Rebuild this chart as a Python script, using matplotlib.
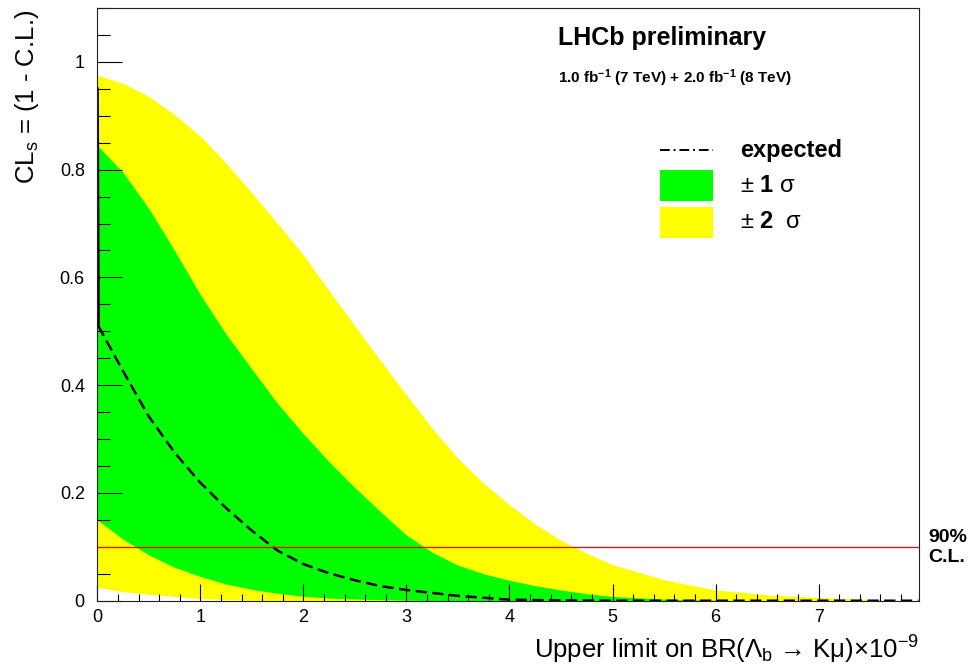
import matplotlib
matplotlib.use("Agg")
import matplotlib.pyplot as plt
from matplotlib.lines import Line2D
from matplotlib.patches import Rectangle
from matplotlib.ticker import MultipleLocator, FuncFormatter

plt.rcParams['font.family'] = ['Liberation Sans', 'DejaVu Sans']
plt.rcParams['mathtext.fontset'] = 'custom'
plt.rcParams['mathtext.rm'] = 'Liberation Sans'
plt.rcParams['mathtext.bf'] = 'Liberation Sans:bold'
plt.rcParams['mathtext.it'] = 'Liberation Sans:italic'

# branching fraction scan points (units of 1e-9)
br = [0.0, 0.25, 0.5, 0.75, 1.0, 1.25, 1.5, 1.75, 2.0, 2.25, 2.5, 2.75,
      3.0, 3.25, 3.5, 3.75, 4.0, 4.25, 4.5, 4.75, 5.0, 5.5, 6.0, 6.5,
      7.0, 7.5, 7.97]

# CLs bands from toys
band_p2 = [0.975, 0.96, 0.936, 0.902, 0.862, 0.812, 0.757, 0.70, 0.642, 0.575,
           0.51, 0.445, 0.382, 0.32, 0.264, 0.218, 0.178, 0.142, 0.112, 0.088,
           0.067, 0.039, 0.02, 0.011, 0.006, 0.002, 0.0]
band_p1 = [0.845, 0.795, 0.728, 0.65, 0.568, 0.495, 0.43, 0.366, 0.31, 0.258,
           0.21, 0.165, 0.122, 0.09, 0.066, 0.05, 0.038, 0.028, 0.02, 0.013,
           0.008, 0.003, 0.001, 0.0, 0.0, 0.0, 0.0]
band_m1 = [0.15, 0.114, 0.085, 0.062, 0.045, 0.031, 0.021, 0.014, 0.008, 0.005,
           0.003, 0.002, 0.001, 0.0, 0.0, 0.0, 0.0, 0.0, 0.0, 0.0,
           0.0, 0.0, 0.0, 0.0, 0.0, 0.0, 0.0]
band_m2 = [0.025, 0.017, 0.012, 0.008, 0.004, 0.002, 0.001, 0.0, 0.0, 0.0,
           0.0, 0.0, 0.0, 0.0, 0.0, 0.0, 0.0, 0.0, 0.0, 0.0,
           0.0, 0.0, 0.0, 0.0, 0.0, 0.0, 0.0]

# median expected CLs
exp_br = [0.0, 0.01, 0.25, 0.5, 0.75, 1.0, 1.25, 1.5, 1.75, 2.0, 2.25, 2.5,
          2.75, 3.0, 3.5, 4.0, 4.5, 5.0, 6.0, 7.0, 7.97]
exp_cls = [0.95, 0.51, 0.426, 0.342, 0.275, 0.219, 0.172, 0.13, 0.093, 0.068,
           0.051, 0.038, 0.027, 0.02, 0.009, 0.002, 0.0005, 0.0, 0.0, 0.0, 0.0]

cl_level = 0.1

fig = plt.figure(figsize=(9.72, 6.68), dpi=100)
ax = fig.add_axes([0.1001, 0.1007, 0.8449, 0.8873])

ax.fill_between(br, band_m2, band_p2, color='#ffff00', lw=0)
ax.fill_between(br, band_m1, band_p1, color='#00ff00', lw=0)
# steep start at zero drawn solid, the rest dashed
ax.plot(exp_br[:2], exp_cls[:2], color='black', lw=2.2)
ax.plot(exp_br[1:], exp_cls[1:], color='black', lw=1.8, dashes=(4.5, 2.2))
ax.axhline(cl_level, color='red', lw=0.9)

ax.set_xlim(0, 7.97)
ax.set_ylim(0, 1.1)

fmt = FuncFormatter(lambda v, _: f"{v:g}")
ax.xaxis.set_major_locator(MultipleLocator(1))
ax.xaxis.set_minor_locator(MultipleLocator(0.2))
ax.yaxis.set_major_locator(MultipleLocator(0.2))
ax.yaxis.set_minor_locator(MultipleLocator(0.05))
ax.xaxis.set_major_formatter(fmt)
ax.yaxis.set_major_formatter(fmt)
ax.tick_params(which='both', direction='in', top=False, right=False,
               width=0.8, color='black', labelsize=13)
ax.tick_params(axis='y', which='major', length=18, pad=9)
ax.tick_params(axis='y', which='minor', length=9.4)
ax.tick_params(axis='x', which='major', length=12.2, pad=6)
ax.tick_params(axis='x', which='minor', length=5.4)
for s in ax.spines.values():
    s.set_linewidth(0.8)
    s.set_color('#222222')

# axis titles, ROOT style: aligned to the far ends
fig.text(0.945, 0.0135, r"Upper limit on BR(Λ$_\mathrm{b}$ → Kμ)×10$^{-9}$",
         ha='right', va='baseline', fontsize=18.5)
fig.text(0.0278, 0.985, r"CL$_\mathrm{s}$ = (1 - C.L.)", rotation=90,
         ha='center', va='top', fontsize=18.5)

# labels
ax.text(0.561, 0.9492, "LHCb preliminary", transform=ax.transAxes,
        fontsize=18, fontweight='bold', va='center', ha='left')
ax.text(0.561, 0.8819,
        r"1.0 fb$^{\mathbf{-1}}$ (7 TeV) + 2.0 fb$^{\mathbf{-1}}$ (8 TeV)",
        transform=ax.transAxes, fontsize=11, fontweight='bold',
        va='center', ha='left')

fig.text(0.9547, 0.196, "90%", fontsize=14, fontweight='bold', va='center', ha='left')
fig.text(0.9547, 0.1647, "C.L.", fontsize=14, fontweight='bold', va='center', ha='left')

# legend
ax.add_line(Line2D([0.685, 0.7496], [0.7604, 0.7604], transform=ax.transAxes,
                   color='black', lw=1.4, linestyle=(0, (5, 2, 1, 2))))
ax.add_patch(Rectangle((0.685, 0.6743), 0.0646, 0.0523, transform=ax.transAxes,
                       facecolor='#00ff00', edgecolor='none'))
ax.add_patch(Rectangle((0.685, 0.6118), 0.0646, 0.0523, transform=ax.transAxes,
                       facecolor='#ffff00', edgecolor='none'))
ax.text(0.7825, 0.7604, "expected", transform=ax.transAxes, fontsize=17,
        fontweight='bold', va='center', ha='left')
ax.text(0.7825, 0.6997, r"$\pm$ $\mathbf{1}$ σ", transform=ax.transAxes,
        fontsize=17, va='center', ha='left')
ax.text(0.7825, 0.6389, r"$\pm$ $\mathbf{2}$  σ", transform=ax.transAxes,
        fontsize=17, va='center', ha='left')

fig.savefig("out.png", dpi=100)
